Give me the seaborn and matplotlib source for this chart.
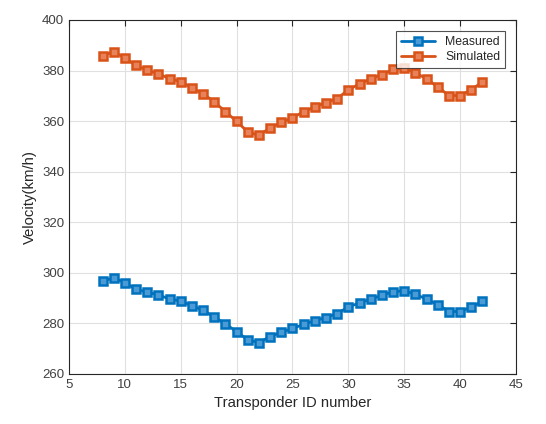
import numpy as np
import pandas as pd
import matplotlib
matplotlib.use("Agg")
import matplotlib.pyplot as plt
import seaborn as sns

# transponder ids and velocities
transponder_id = list(range(8, 43))
measured = [296.7, 298.0, 296.1, 293.5, 292.4, 291.2, 289.7, 288.8, 287.0, 285.2,
            282.5, 279.8, 276.7, 273.5, 272.4, 274.8, 276.5, 278.0, 279.6, 281.1,
            282.3, 283.9, 286.5, 288.1, 289.6, 291.1, 292.5, 292.9, 291.5, 289.6,
            287.4, 284.7, 284.7, 286.4, 288.7]
simulated = [385.7, 387.5, 384.9, 382.0, 380.1, 378.7, 376.8, 375.6, 373.1, 370.8,
             367.6, 363.7, 359.9, 355.7, 354.4, 357.3, 359.5, 361.3, 363.7, 365.6,
             367.3, 368.9, 372.4, 374.7, 376.7, 378.4, 380.4, 380.9, 379.1, 376.7,
             373.5, 370.1, 370.1, 372.4, 375.5]
series_names = ["Measured", "Simulated"]
colors = ["#0072BD", "#D95319"]
face_colors = ["#4a9ad6", "#e8825a"]

df = pd.DataFrame({
    "id": transponder_id * 2,
    "velocity": measured + simulated,
    "series": [series_names[0]] * len(measured) + [series_names[1]] * len(simulated),
})

sns.set_style("white")
plt.rcParams["font.family"] = ["Liberation Sans", "DejaVu Sans"]

fig = plt.figure(figsize=(5.46, 4.24), dpi=100)
ax = fig.add_axes([0.1264, 0.118, 0.8186, 0.835])

sns.lineplot(data=df, x="id", y="velocity", hue="series", palette=colors,
             marker="s", markersize=5.5, markeredgewidth=1.8,
             linewidth=2, ax=ax)
for line, c, fc in zip(ax.lines, colors, face_colors):
    line.set_markeredgecolor(c)
    line.set_markerfacecolor(fc)

ax.set_xlim(5, 45)
ax.set_ylim(260, 400)
ax.set_xticks(np.arange(5, 46, 5))
ax.set_yticks(np.arange(260, 401, 20))
ax.grid(True, color="#e0e0e0", linewidth=0.8)
ax.tick_params(direction="in", length=4, labelsize=9.5, colors="#262626",
               top=True, right=True, labelcolor="#404040")
for s in ax.spines.values():
    s.set_color("#262626")
    s.set_linewidth(0.8)

ax.set_xlabel("Transponder ID number", fontsize=10.7, color="#262626")
ax.set_ylabel("Velocity(km/h)", fontsize=10.7, color="#262626")

leg = ax.legend(loc="upper right", fontsize=8.8, frameon=True, fancybox=False,
                edgecolor="#262626", handlelength=2.8, borderpad=0.4,
                labelspacing=0.25, borderaxespad=0.9)
leg.get_frame().set_linewidth(0.8)
for h, c, fc in zip(leg.get_lines(), colors, face_colors):
    h.set_markeredgecolor(c)
    h.set_markerfacecolor(fc)

fig.savefig("out.png", dpi=100)
